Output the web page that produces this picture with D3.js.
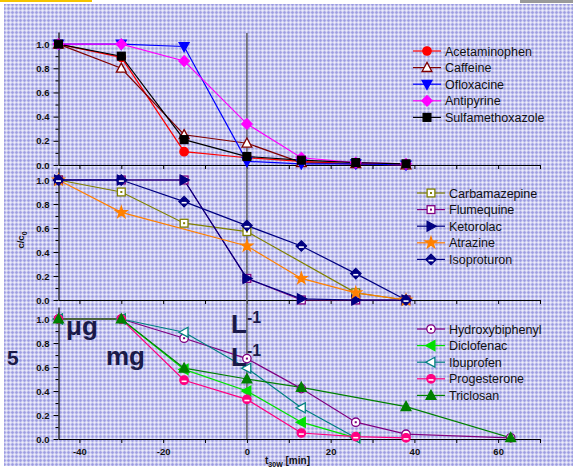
<!DOCTYPE html>
<html><head><meta charset="utf-8">
<script src="https://cdn.jsdelivr.net/npm/d3@7"></script>
<style>html,body{margin:0;padding:0;background:#fff;}svg{display:block;}</style>
</head><body>
<svg id="c" width="573" height="476"></svg>
<script>
// ---- data ----
const timesA = [-45, -30, -15, 0, 13, 26, 38];
const timesC = [-45, -30, -15, 0, 13, 26, 38, 63];

const panel1Names = ["Acetaminophen", "Caffeine", "Ofloxacine", "Antipyrine", "Sulfamethoxazole"];
const acetaminophen    = [1.0, 0.89, 0.11, 0.06, 0.03, 0.01, 0.0];
const caffeine         = [1.0, 0.80, 0.25, 0.18, 0.02, 0.01, 0.0];
const ofloxacine       = [1.0, 1.0, 0.98, 0.03, 0.01, 0.01, 0.0];
const antipyrine       = [1.0, 1.0, 0.86, 0.34, 0.06, 0.02, 0.01];
const sulfamethoxazole = [1.0, 0.90, 0.21, 0.07, 0.04, 0.02, 0.01];

const panel2Names = ["Carbamazepine", "Flumequine", "Ketorolac", "Atrazine", "Isoproturon"];
const carbamazepine = [1.0, 0.90, 0.64, 0.57, null, 0.06, 0.0];
const flumequine    = [1.0, 1.0, 1.0, 0.18, 0.0, 0.0, 0.0];
const ketorolac     = [1.0, 1.0, 1.0, 0.18, 0.01, 0.0, 0.0];
const atrazine      = [1.0, 0.73, null, 0.45, 0.18, 0.06, 0.0];
const isoproturon   = [1.0, 1.0, 0.82, 0.62, 0.45, 0.22, 0.0];

const panel3Names = ["Hydroxybiphenyl", "Diclofenac", "Ibuprofen", "Progesterone", "Triclosan"];
const hydroxybiphenyl = [1.0, 1.0, 0.84, 0.67, 0.42, 0.14, 0.04, 0.01];
const diclofenac      = [1.0, 1.0, 0.58, 0.40, 0.14, 0.01, null, null];
const ibuprofen       = [1.0, 1.0, 0.89, 0.59, 0.26, 0.01, null, null];
const progesterone    = [1.0, 1.0, 0.49, 0.33, 0.05, 0.02, 0.01, null];
const triclosan       = [1.0, 1.0, 0.59, 0.50, 0.43, null, 0.27, 0.01];

const xTickValues = [-40, -30, -20, -10, 0, 10, 20, 30, 40, 50, 60, 70];
const xLabelValues = [-40, -20, 0, 20, 40, 60];
const yTickValues = [0, 0.2, 0.4, 0.6, 0.8, 1.0];
const yMinorValues = [0.1, 0.3, 0.5, 0.7, 0.9];

// ---- styles ----
const styles = {
  Acetaminophen:   {color: "#ff0000", shape: "circle", fill: "solid"},
  Caffeine:        {color: "#800000", shape: "triUp", fill: "open"},
  Ofloxacine:      {color: "#0000ff", shape: "triDown", fill: "solid"},
  Antipyrine:      {color: "#ff00ff", shape: "diamond", fill: "solid"},
  Sulfamethoxazole:{color: "#000000", shape: "square", fill: "solid"},
  Carbamazepine:   {color: "#808000", shape: "square", fill: "dot"},
  Flumequine:      {color: "#800080", shape: "square", fill: "dot"},
  Ketorolac:       {color: "#000080", shape: "triRight", fill: "solid"},
  Atrazine:        {color: "#ff8000", shape: "star", fill: "solid"},
  Isoproturon:     {color: "#000080", shape: "diamond", fill: "half"},
  Hydroxybiphenyl: {color: "#800080", shape: "circle", fill: "dot"},
  Diclofenac:      {color: "#00e000", shape: "triLeft", fill: "solid"},
  Ibuprofen:       {color: "#008080", shape: "triLeft", fill: "open"},
  Progesterone:    {color: "#ff0080", shape: "circle", fill: "half"},
  Triclosan:       {color: "#008000", shape: "triUp", fill: "solid"}
};

const svg = d3.select("#c");
const defs = svg.append("defs");
const pat = defs.append("pattern").attr("id","plaid").attr("patternUnits","userSpaceOnUse")
  .attr("width",4).attr("height",4);
pat.append("rect").attr("width",4).attr("height",4).attr("fill","#c6c6ef");
pat.append("rect").attr("x",0).attr("y",0).attr("width",1).attr("height",4).attr("fill","#8f8fdc").attr("opacity",0.55);
pat.append("rect").attr("x",0).attr("y",0).attr("width",4).attr("height",1).attr("fill","#8f8fdc").attr("opacity",0.55);
pat.append("rect").attr("x",2).attr("y",0).attr("width",1).attr("height",4).attr("fill","#ffffff").attr("opacity",0.45);
pat.append("rect").attr("x",0).attr("y",2).attr("width",4).attr("height",1).attr("fill","#ffffff").attr("opacity",0.45);

svg.append("rect").attr("x",4).attr("y",4).attr("width",569).attr("height",462).attr("fill","url(#plaid)");
svg.append("rect").attr("x",0).attr("y",0).attr("width",92).attr("height",2).attr("fill","#f5c400");
svg.append("rect").attr("x",520).attr("y",0).attr("width",53).attr("height",3).attr("fill","#9a9a9a");

const x = d3.scaleLinear().domain([-45, 70]).range([58.5, 540]);
const panels = [
  {names: panel1Names, data: [acetaminophen, caffeine, ofloxacine, antipyrine, sulfamethoxazole], times: timesA, range: [165, 32], legendY: 51, legendX: 413, labels: false},
  {names: panel2Names, data: [carbamazepine, flumequine, ketorolac, atrazine, isoproturon], times: timesA, range: [300, 168], legendY: 193, legendX: 417, labels: false},
  {names: panel3Names, data: [hydroxybiphenyl, diclofenac, ibuprofen, progesterone, triclosan], times: timesC, range: [439, 307], legendY: 329, legendX: 417, labels: true}
];

function drawMarker(g, st, cx, cy) {
  const s = 4.2;
  const c = st.color;
  const fillMain = st.fill === "solid" || st.fill === "half" ? c : "#ffffff";
  let el;
  if (st.shape === "circle") {
    el = g.append("circle").attr("cx",cx).attr("cy",cy).attr("r",s);
  } else if (st.shape === "square") {
    el = g.append("rect").attr("x",cx-s+0.3).attr("y",cy-s+0.3).attr("width",2*s-0.6).attr("height",2*s-0.6);
  } else if (st.shape === "diamond") {
    const r = s+1;
    el = g.append("path").attr("d",`M${cx},${cy-r}L${cx+r},${cy}L${cx},${cy+r}L${cx-r},${cy}Z`);
  } else if (st.shape === "star") {
    el = g.append("path").attr("d", d3.symbol(d3.symbolStar, 40)()).attr("transform",`translate(${cx},${cy})`);
  } else {
    const r = s+1;
    const rot = {triUp:0, triDown:180, triRight:90, triLeft:-90}[st.shape];
    el = g.append("path").attr("d",`M0,${-r}L${r*0.95},${r*0.75}L${-r*0.95},${r*0.75}Z`)
      .attr("transform",`translate(${cx},${cy}) rotate(${rot})`);
  }
  el.attr("fill", fillMain).attr("stroke", c).attr("stroke-width", 1.3);
  if (st.fill === "dot") {
    g.append("rect").attr("x",cx-1).attr("y",cy-1).attr("width",2).attr("height",2).attr("fill",c);
  }
  if (st.fill === "half") {
    g.append("rect").attr("x",cx-2.5).attr("y",cy+0.3).attr("width",5).attr("height",1.6).attr("fill","#ffffff");
  }
}

panels.forEach(p => {
  const y = d3.scaleLinear().domain([0, 1.1]).range(p.range);
  const g = svg.append("g");
  const ya = d3.axisLeft(y).tickValues(yTickValues).tickFormat(d3.format(".1f")).tickSize(5).tickSizeOuter(0);
  const yg = g.append("g").attr("transform","translate(58.5,0)").call(ya);
  yg.selectAll("text").attr("font-family","Arial, Liberation Sans, sans-serif").attr("font-size","9.5px").attr("font-weight","bold").attr("fill","#111").attr("dx","-1");
  const ym = d3.axisLeft(y).tickValues(yMinorValues).tickFormat("").tickSize(3).tickSizeOuter(0);
  g.append("g").attr("transform","translate(58.5,0)").call(ym).select(".domain").remove();
  const xa = d3.axisBottom(x).tickValues(xTickValues).tickSize(4).tickSizeOuter(0)
    .tickFormat(d => (p.labels && xLabelValues.includes(d)) ? d : "");
  const xg = g.append("g").attr("transform",`translate(0,${p.range[0]})`).call(xa);
  xg.selectAll("text").attr("font-family","Arial, Liberation Sans, sans-serif").attr("font-size","9.5px").attr("font-weight","bold").attr("fill","#111").attr("dy","0.9em");
  g.selectAll(".domain").attr("stroke","#000").attr("stroke-width",1.2);
  g.selectAll(".tick line").attr("stroke","#000");
  p.y = y;
});

svg.append("line").attr("x1",x(0)).attr("x2",x(0)).attr("y1",33).attr("y2",439)
  .attr("stroke","#666").attr("stroke-width",1.6);

panels.forEach(p => {
  const g = svg.append("g");
  const y = p.y;
  p.names.forEach((name, i) => {
    const st = styles[name];
    const pts = p.times.map((t, j) => [t, p.data[i][j]]).filter(d => d[1] !== null && d[1] !== undefined);
    const line = d3.line().x(d => x(d[0])).y(d => y(d[1]));
    g.append("path").attr("d", line(pts)).attr("fill","none").attr("stroke",st.color).attr("stroke-width",1.2);
  });
  p.names.forEach((name, i) => {
    const st = styles[name];
    const pts = p.times.map((t, j) => [t, p.data[i][j]]).filter(d => d[1] !== null && d[1] !== undefined);
    pts.forEach(d => drawMarker(g, st, x(d[0]), y(d[1])));
  });
  p.names.forEach((name, i) => {
    const st = styles[name];
    const ly = p.legendY + i * 16.6;
    g.append("line").attr("x1",p.legendX).attr("x2",p.legendX+28).attr("y1",ly).attr("y2",ly)
      .attr("stroke",st.color).attr("stroke-width",1.2);
    drawMarker(g, st, p.legendX+14, ly);
    g.append("text").attr("x",p.legendX+32).attr("y",ly+4.5).text(name)
      .attr("font-family","Arial, Liberation Sans, sans-serif").attr("font-size","12.5px").attr("fill","#111");
  });
});

const yt = svg.append("text").attr("transform","translate(24,240) rotate(-90)").attr("text-anchor","middle")
  .attr("font-family","Arial, Liberation Sans, sans-serif").attr("font-size","9.5px").attr("font-weight","bold").attr("fill","#111");
yt.append("tspan").text("c/c");
yt.append("tspan").text("0").attr("font-size","7px").attr("dy","3");
const xt = svg.append("text").attr("x",265).attr("y",464)
  .attr("font-family","Arial, Liberation Sans, sans-serif").attr("font-size","10px").attr("font-weight","bold").attr("fill","#111");
xt.append("tspan").text("t");
xt.append("tspan").text("30W").attr("font-size","7px").attr("dy","3");
xt.append("tspan").text(" [min]").attr("dy","-3");

const ov = {"font-family":"Arial, Liberation Sans, sans-serif","font-weight":"bold","fill":"#1a1a48"};
function ovText(t, xx, yy, size) {
  const e = svg.append("text").attr("x",xx).attr("y",yy).attr("font-size",size+"px");
  Object.entries(ov).forEach(([k,v]) => e.attr(k,v));
  e.text(t);
  return e;
}
ovText("5", 7, 365, 21);
ovText("μg", 66, 335, 26);
ovText("mg", 106, 365, 26);
function lMinus(yy) {
  const e = svg.append("text").attr("x",231).attr("y",yy).attr("font-size","26px");
  Object.entries(ov).forEach(([k,v]) => e.attr(k,v));
  e.append("tspan").text("L");
  e.append("tspan").text("-1").attr("font-size","16px").attr("dy","-10");
}
lMinus(333);
lMinus(366);
</script>
</body></html>
